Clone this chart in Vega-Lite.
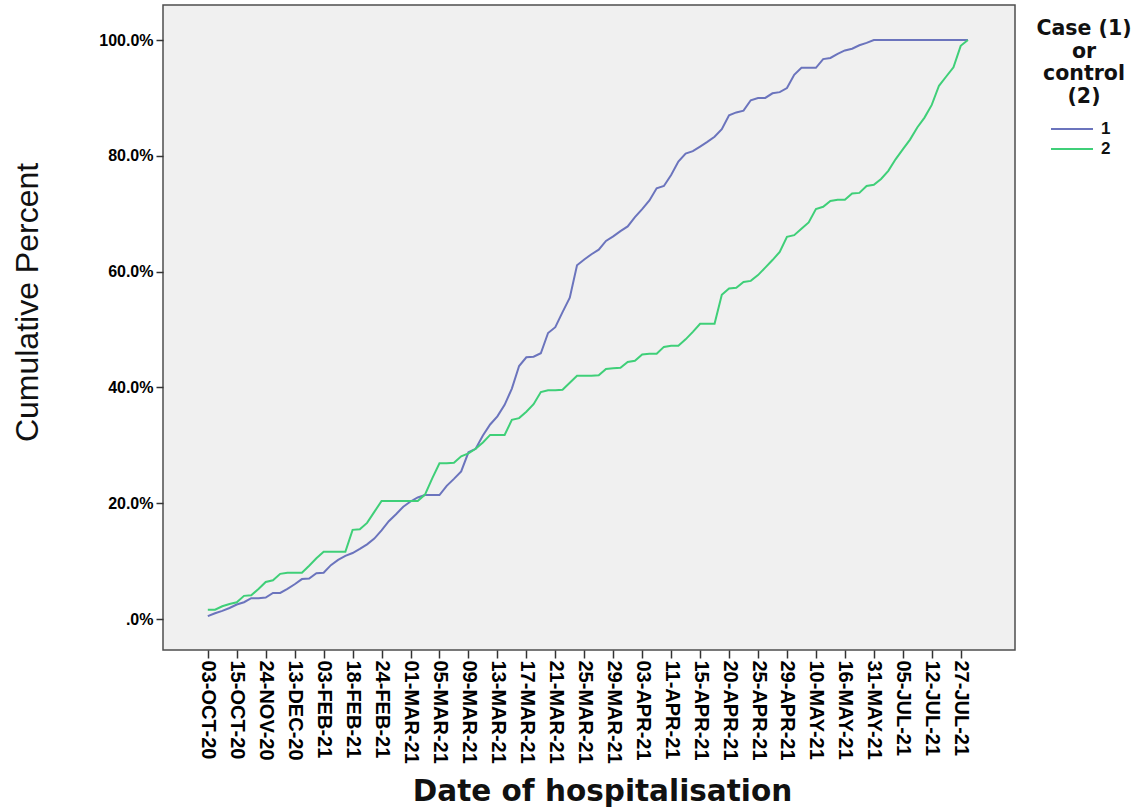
{
  "$schema": "https://vega.github.io/schema/vega-lite/v6.json",
  "width": 852,
  "height": 645,
  "autosize": {"type": "none"},
  "padding": {"left": 163, "top": 5, "right": 132, "bottom": 158},
  "background": "white",
  "config": {
    "view": {"fill": "#f0f0f0", "stroke": "#4d4d4d", "strokeWidth": 1.5},
    "font": "Liberation Sans"
  },
  "data": {"values": [
    {"idx":0,"case":"1","pct":0.5},{"idx":1,"case":"1","pct":1.0},{"idx":2,"case":"1","pct":1.4},{"idx":3,"case":"1","pct":1.9},{"idx":4,"case":"1","pct":2.5},{"idx":5,"case":"1","pct":2.9},{"idx":6,"case":"1","pct":3.6},{"idx":7,"case":"1","pct":3.6},{"idx":8,"case":"1","pct":3.7},{"idx":9,"case":"1","pct":4.5},
    {"idx":10,"case":"1","pct":4.5},{"idx":11,"case":"1","pct":5.2},{"idx":12,"case":"1","pct":6.0},{"idx":13,"case":"1","pct":6.9},{"idx":14,"case":"1","pct":7.0},{"idx":15,"case":"1","pct":7.9},{"idx":16,"case":"1","pct":8.0},{"idx":17,"case":"1","pct":9.3},{"idx":18,"case":"1","pct":10.2},{"idx":19,"case":"1","pct":10.9},
    {"idx":20,"case":"1","pct":11.4},{"idx":21,"case":"1","pct":12.1},{"idx":22,"case":"1","pct":12.9},{"idx":23,"case":"1","pct":13.9},{"idx":24,"case":"1","pct":15.3},{"idx":25,"case":"1","pct":16.9},{"idx":26,"case":"1","pct":18.1},{"idx":27,"case":"1","pct":19.4},{"idx":28,"case":"1","pct":20.3},{"idx":29,"case":"1","pct":21.0},
    {"idx":30,"case":"1","pct":21.4},{"idx":31,"case":"1","pct":21.4},{"idx":32,"case":"1","pct":21.4},{"idx":33,"case":"1","pct":23.0},{"idx":34,"case":"1","pct":24.2},{"idx":35,"case":"1","pct":25.5},{"idx":36,"case":"1","pct":28.8},{"idx":37,"case":"1","pct":29.4},{"idx":38,"case":"1","pct":31.7},{"idx":39,"case":"1","pct":33.6},
    {"idx":40,"case":"1","pct":35.0},{"idx":41,"case":"1","pct":37.0},{"idx":42,"case":"1","pct":39.8},{"idx":43,"case":"1","pct":43.7},{"idx":44,"case":"1","pct":45.2},{"idx":45,"case":"1","pct":45.3},{"idx":46,"case":"1","pct":45.9},{"idx":47,"case":"1","pct":49.4},{"idx":48,"case":"1","pct":50.4},{"idx":49,"case":"1","pct":53.0},
    {"idx":50,"case":"1","pct":55.5},{"idx":51,"case":"1","pct":61.1},{"idx":52,"case":"1","pct":62.1},{"idx":53,"case":"1","pct":63.0},{"idx":54,"case":"1","pct":63.8},{"idx":55,"case":"1","pct":65.3},{"idx":56,"case":"1","pct":66.1},{"idx":57,"case":"1","pct":67.0},{"idx":58,"case":"1","pct":67.8},{"idx":59,"case":"1","pct":69.4},
    {"idx":60,"case":"1","pct":70.8},{"idx":61,"case":"1","pct":72.3},{"idx":62,"case":"1","pct":74.4},{"idx":63,"case":"1","pct":74.8},{"idx":64,"case":"1","pct":76.7},{"idx":65,"case":"1","pct":79.0},{"idx":66,"case":"1","pct":80.4},{"idx":67,"case":"1","pct":80.8},{"idx":68,"case":"1","pct":81.6},{"idx":69,"case":"1","pct":82.4},
    {"idx":70,"case":"1","pct":83.3},{"idx":71,"case":"1","pct":84.6},{"idx":72,"case":"1","pct":87.0},{"idx":73,"case":"1","pct":87.5},{"idx":74,"case":"1","pct":87.8},{"idx":75,"case":"1","pct":89.6},{"idx":76,"case":"1","pct":90.0},{"idx":77,"case":"1","pct":90.0},{"idx":78,"case":"1","pct":90.8},{"idx":79,"case":"1","pct":91.0},
    {"idx":80,"case":"1","pct":91.7},{"idx":81,"case":"1","pct":94.0},{"idx":82,"case":"1","pct":95.2},{"idx":83,"case":"1","pct":95.2},{"idx":84,"case":"1","pct":95.2},{"idx":85,"case":"1","pct":96.7},{"idx":86,"case":"1","pct":96.9},{"idx":87,"case":"1","pct":97.6},{"idx":88,"case":"1","pct":98.2},{"idx":89,"case":"1","pct":98.5},
    {"idx":90,"case":"1","pct":99.1},{"idx":91,"case":"1","pct":99.5},{"idx":92,"case":"1","pct":100},{"idx":93,"case":"1","pct":100},{"idx":94,"case":"1","pct":100},{"idx":95,"case":"1","pct":100},{"idx":96,"case":"1","pct":100},{"idx":97,"case":"1","pct":100},{"idx":98,"case":"1","pct":100},{"idx":99,"case":"1","pct":100},
    {"idx":100,"case":"1","pct":100},{"idx":101,"case":"1","pct":100},{"idx":102,"case":"1","pct":100},{"idx":103,"case":"1","pct":100},{"idx":104,"case":"1","pct":100},{"idx":105,"case":"1","pct":100},
    {"idx":0,"case":"2","pct":1.6},{"idx":1,"case":"2","pct":1.6},{"idx":2,"case":"2","pct":2.2},{"idx":3,"case":"2","pct":2.6},{"idx":4,"case":"2","pct":2.9},{"idx":5,"case":"2","pct":4.0},{"idx":6,"case":"2","pct":4.1},{"idx":7,"case":"2","pct":5.2},{"idx":8,"case":"2","pct":6.4},{"idx":9,"case":"2","pct":6.7},
    {"idx":10,"case":"2","pct":7.8},{"idx":11,"case":"2","pct":8.0},{"idx":12,"case":"2","pct":8.0},{"idx":13,"case":"2","pct":8.0},{"idx":14,"case":"2","pct":9.2},{"idx":15,"case":"2","pct":10.5},{"idx":16,"case":"2","pct":11.6},{"idx":17,"case":"2","pct":11.6},{"idx":18,"case":"2","pct":11.6},{"idx":19,"case":"2","pct":11.6},
    {"idx":20,"case":"2","pct":15.4},{"idx":21,"case":"2","pct":15.5},{"idx":22,"case":"2","pct":16.6},{"idx":23,"case":"2","pct":18.5},{"idx":24,"case":"2","pct":20.4},{"idx":25,"case":"2","pct":20.4},{"idx":26,"case":"2","pct":20.4},{"idx":27,"case":"2","pct":20.4},{"idx":28,"case":"2","pct":20.4},{"idx":29,"case":"2","pct":20.4},
    {"idx":30,"case":"2","pct":21.5},{"idx":31,"case":"2","pct":24.3},{"idx":32,"case":"2","pct":26.9},{"idx":33,"case":"2","pct":26.9},{"idx":34,"case":"2","pct":27.0},{"idx":35,"case":"2","pct":28.1},{"idx":36,"case":"2","pct":28.6},{"idx":37,"case":"2","pct":29.4},{"idx":38,"case":"2","pct":30.5},{"idx":39,"case":"2","pct":31.8},
    {"idx":40,"case":"2","pct":31.8},{"idx":41,"case":"2","pct":31.8},{"idx":42,"case":"2","pct":34.4},{"idx":43,"case":"2","pct":34.7},{"idx":44,"case":"2","pct":35.8},{"idx":45,"case":"2","pct":37.1},{"idx":46,"case":"2","pct":39.2},{"idx":47,"case":"2","pct":39.5},{"idx":48,"case":"2","pct":39.5},{"idx":49,"case":"2","pct":39.6},
    {"idx":50,"case":"2","pct":40.8},{"idx":51,"case":"2","pct":42.0},{"idx":52,"case":"2","pct":42.0},{"idx":53,"case":"2","pct":42.0},{"idx":54,"case":"2","pct":42.1},{"idx":55,"case":"2","pct":43.2},{"idx":56,"case":"2","pct":43.3},{"idx":57,"case":"2","pct":43.4},{"idx":58,"case":"2","pct":44.4},{"idx":59,"case":"2","pct":44.6},
    {"idx":60,"case":"2","pct":45.7},{"idx":61,"case":"2","pct":45.8},{"idx":62,"case":"2","pct":45.8},{"idx":63,"case":"2","pct":47.0},{"idx":64,"case":"2","pct":47.2},{"idx":65,"case":"2","pct":47.2},{"idx":66,"case":"2","pct":48.3},{"idx":67,"case":"2","pct":49.6},{"idx":68,"case":"2","pct":51.0},{"idx":69,"case":"2","pct":51.0},
    {"idx":70,"case":"2","pct":51.0},{"idx":71,"case":"2","pct":56.0},{"idx":72,"case":"2","pct":57.1},{"idx":73,"case":"2","pct":57.2},{"idx":74,"case":"2","pct":58.2},{"idx":75,"case":"2","pct":58.4},{"idx":76,"case":"2","pct":59.4},{"idx":77,"case":"2","pct":60.7},{"idx":78,"case":"2","pct":62.0},{"idx":79,"case":"2","pct":63.4},
    {"idx":80,"case":"2","pct":66.0},{"idx":81,"case":"2","pct":66.3},{"idx":82,"case":"2","pct":67.4},{"idx":83,"case":"2","pct":68.5},{"idx":84,"case":"2","pct":70.8},{"idx":85,"case":"2","pct":71.2},{"idx":86,"case":"2","pct":72.2},{"idx":87,"case":"2","pct":72.4},{"idx":88,"case":"2","pct":72.4},{"idx":89,"case":"2","pct":73.5},
    {"idx":90,"case":"2","pct":73.6},{"idx":91,"case":"2","pct":74.8},{"idx":92,"case":"2","pct":75.0},{"idx":93,"case":"2","pct":76.0},{"idx":94,"case":"2","pct":77.4},{"idx":95,"case":"2","pct":79.4},{"idx":96,"case":"2","pct":81.1},{"idx":97,"case":"2","pct":82.8},{"idx":98,"case":"2","pct":84.9},{"idx":99,"case":"2","pct":86.6},
    {"idx":100,"case":"2","pct":88.8},{"idx":101,"case":"2","pct":92.1},{"idx":102,"case":"2","pct":93.7},{"idx":103,"case":"2","pct":95.3},{"idx":104,"case":"2","pct":99.0},{"idx":105,"case":"2","pct":100}
  ]},
  "mark": {"type": "line", "strokeWidth": 2},
  "encoding": {
    "x": {
      "field": "idx",
      "type": "quantitative",
      "scale": {"domain": [-6.19, 111.5], "nice": false, "zero": false},
      "axis": {
        "values": [0,4,8,12,16,20,24,28,32,36,40,44,48,52,56,60,64,68,72,76,80,84,88,92,96,100,104],
        "labelExpr": "['03-OCT-20','15-OCT-20','24-NOV-20','13-DEC-20','03-FEB-21','18-FEB-21','24-FEB-21','01-MAR-21','05-MAR-21','09-MAR-21','13-MAR-21','17-MAR-21','21-MAR-21','25-MAR-21','29-MAR-21','03-APR-21','11-APR-21','15-APR-21','20-APR-21','25-APR-21','29-APR-21','10-MAY-21','16-MAY-21','31-MAY-21','05-JUL-21','12-JUL-21','27-JUL-21'][round(datum.value/4)]",
        "labelAngle": 90,
        "labelFont": "Liberation Sans",
        "labelFontWeight": "bold",
        "labelFontSize": 20,
        "labelColor": "#000000",
        "labelPadding": 2,
        "labelOverlap": false,
        "labelFlush": false,
        "tickSize": 8,
        "tickColor": "#333333",
        "tickWidth": 1.5,
        "domain": false,
        "grid": false,
        "title": "Date of hospitalisation",
        "titleFont": "DejaVu Sans",
        "titleFontSize": 29.5,
        "titleFontWeight": "bold",
        "titleColor": "#111111",
        "titleX": 439,
        "titleY": 127,
        "titleAlign": "center",
        "titleBaseline": "top"
      }
    },
    "y": {
      "field": "pct",
      "type": "quantitative",
      "scale": {"domain": [-5.35, 106.05], "nice": false, "zero": false},
      "axis": {
        "values": [0, 20, 40, 60, 80, 100],
        "labelExpr": "datum.value == 0 ? '.0%' : format(datum.value, '.1f') + '%'",
        "labelFont": "Liberation Sans",
        "labelFontWeight": "bold",
        "labelFontSize": 16,
        "labelColor": "#000000",
        "labelPadding": 3,
        "tickSize": 7,
        "tickColor": "#333333",
        "tickWidth": 1.5,
        "domain": false,
        "grid": false,
        "title": "Cumulative Percent",
        "titleFont": "Liberation Sans",
        "titleFontSize": 32,
        "titleFontWeight": "normal",
        "titleColor": "#111111",
        "titleAngle": -90,
        "titleX": -136,
        "titleY": 297,
        "titleAlign": "center",
        "titleBaseline": "middle"
      }
    },
    "color": {
      "field": "case",
      "type": "nominal",
      "scale": {"domain": ["1", "2"], "range": ["#6b74bd", "#3fcf78"]},
      "legend": {
        "orient": "none",
        "legendX": 873,
        "legendY": 14,
        "title": ["Case (1)", "or", "control", "(2)"],
        "titleFont": "DejaVu Sans",
        "titleFontSize": 20.5,
        "titleFontWeight": "bold",
        "titleColor": "#111111",
        "titleAlign": "center",
        "titleAnchor": "middle",
        "titleLineHeight": 22.5,
        "titlePadding": 11,
        "symbolType": "M-2.1,0H2.1",
        "symbolSize": 400,
        "symbolStrokeWidth": 2,
        "symbolOffset": 3,
        "labelFont": "Liberation Sans",
        "labelFontSize": 17,
        "labelFontWeight": "bold",
        "labelColor": "#111111",
        "labelOffset": 18,
        "rowPadding": 1,
        "padding": 0
      }
    }
  }
}
